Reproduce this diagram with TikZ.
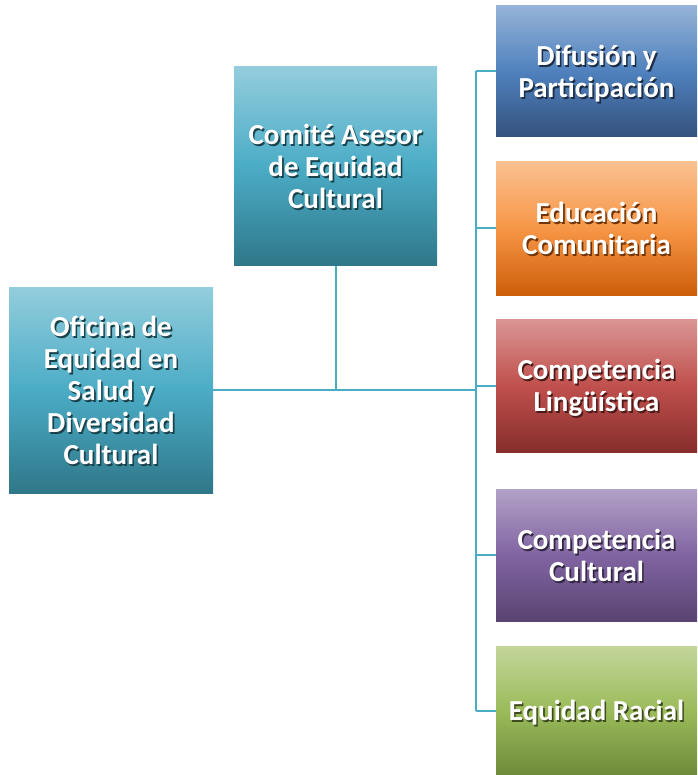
\documentclass[tikz,border=0pt]{standalone}
\usepackage{fontspec}
\setmainfont{Carlito}
\newcommand\shadowedtext[2]{{\setlength\tabcolsep{0pt}%
  \raisebox{-4pt}[\height][\depth]{%
  \rlap{\hspace{1.6pt}\raisebox{-1.8pt}[0pt][0pt]{\color{#1}\begin{tabular}{c}#2\end{tabular}}}%
  \begin{tabular}{c}#2\end{tabular}}}}
\begin{document}
\begin{tikzpicture}[x=1pt,y=-1pt,
  conn/.style={draw=lineblue,line width=2pt},
  orgbox/.style={anchor=north west,inner sep=0pt,outer sep=0pt,draw=none,
    font=\bfseries\fontsize{29}{32}\selectfont,align=center,text=white}]
\definecolor{lineblue}{HTML}{4BACC6}
\definecolor{tealA}{HTML}{93CDDD}\definecolor{tealB}{HTML}{4BACC6}\definecolor{tealC}{HTML}{2F7789}
\definecolor{blueA}{HTML}{95B3D7}\definecolor{blueB}{HTML}{4F81BD}\definecolor{blueC}{HTML}{34527E}
\definecolor{oraA}{HTML}{FAC090}\definecolor{oraB}{HTML}{F79646}\definecolor{oraC}{HTML}{CC5E0A}
\definecolor{redA}{HTML}{DA9694}\definecolor{redB}{HTML}{C0504D}\definecolor{redC}{HTML}{862E2C}
\definecolor{purA}{HTML}{B3A2C7}\definecolor{purB}{HTML}{8064A2}\definecolor{purC}{HTML}{5A4472}
\definecolor{grnA}{HTML}{C3D69B}\definecolor{grnB}{HTML}{9BBB59}\definecolor{grnC}{HTML}{6E8A3A}
\useasboundingbox (0,0) rectangle (697,775);
\fill[white] (0,0) rectangle (697,775);
% boxes
\newcommand\orgnode[7]{%
  \node[orgbox,minimum width=#4,minimum height=#5,top color=#6A,bottom color=#6C,middle color=#6B] (#1) at (#2,#3) {\shadowedtext{#6C!55!black}{#7}};}
\orgnode{ofi}{9}{287}{204}{206}{teal}{Oficina de\\Equidad en\\Salud y\\Diversidad\\Cultural}
\orgnode{com}{234}{67}{203}{199}{teal}{Comité Asesor\\de Equidad\\Cultural}
\orgnode{dif}{496}{6}{201}{131}{blue}{Difusión y\\Participación}
\orgnode{edu}{496}{162}{201}{133}{ora}{Educación\\Comunitaria}
\orgnode{lin}{496}{319}{201}{133}{red}{Competencia\\Lingüística}
\orgnode{cul}{496}{489}{201}{132}{pur}{Competencia\\Cultural}
\orgnode{rac}{496}{646}{201}{129}{grn}{Equidad Racial}
% connectors
\coordinate (trunk) at (476,0);
\draw[conn] (dif.west -| trunk) -- (rac.west -| trunk);
\draw[conn] (ofi.east) -- (ofi.east -| trunk);
\draw[conn] (com.south) -- (com.south |- ofi.east);
\foreach \b in {dif,edu,lin,cul,rac}{\draw[conn] (\b.west -| trunk) -- (\b.west);}
\end{tikzpicture}
\end{document}
